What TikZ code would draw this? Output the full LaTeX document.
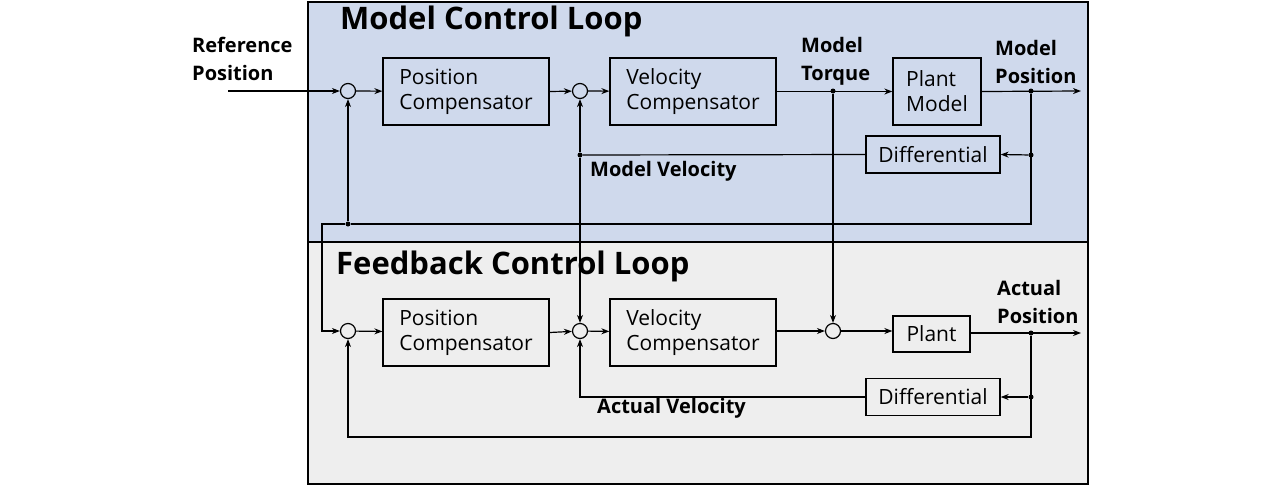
\documentclass[tikz,border=0pt]{standalone}
\usepackage{fontspec}
\setmainfont{Open Sans}
\usetikzlibrary{arrows.meta}
\definecolor{modelbg}{RGB}{207,217,236}
\definecolor{fbbg}{RGB}{238,238,238}
\begin{document}
\begin{tikzpicture}[x=1pt,y=-1pt,
  blk/.style={draw,line width=1.3pt,inner sep=0pt,font=\fontsize{21}{25}\selectfont,align=left},
  sum/.style={draw,circle,line width=1.2pt,minimum size=15pt,inner sep=0pt},
  dot/.style={circle,fill,inner sep=0pt,minimum size=5pt},
  lbl/.style={font=\bfseries\fontsize{20}{28}\selectfont,align=left,inner sep=0pt},
  ttl/.style={font=\bfseries\fontsize{31}{36}\selectfont,inner sep=0pt,anchor=west},
  ar/.style={-{Stealth[length=8pt,width=6pt]},line width=1.2pt},
  ln/.style={line width=1.2pt}]
\useasboundingbox (0,0) rectangle (1284,488);
\draw[line width=1.3pt,fill=modelbg] (308,2) rectangle (1088,242);
\draw[line width=1.3pt,fill=fbbg] (308,242) rectangle (1088,484);
\node[ttl] (t1) at (340,21) {Model Control Loop};
\node[ttl] (t2) at (336,266) {Feedback Control Loop};
\node[lbl,anchor=west] (ref) at (192,59) {Reference\\Position};
\coordinate (refin) at (228,91);
% top row
\node[sum] (s1) at (348,91) {};
\node[blk,minimum width=166pt,minimum height=67pt] (pc1) at (466,91.5) {Position\\Compensator};
\node[sum] (s2) at (580,91) {};
\node[blk,minimum width=166pt,minimum height=67pt] (vc1) at (693,91.5) {Velocity\\Compensator};
\node[blk,minimum width=88pt,minimum height=67pt] (pm) at (937,91.5) {Plant\\Model};
\node[blk,minimum width=134pt,minimum height=37pt] (d1) at (933,154.5) {Differential};
\node[dot] (jt) at (833,91) {};
\node[dot] (jp) at (1031,91) {};
\node[dot] (jd1) at (1031,155) {};
\node[dot] (jv1) at (580,155) {};
\node[dot] (jr) at (348,224) {};
\coordinate (o1) at (1081,91);
\coordinate (c1) at (1031,224);
\coordinate (c2) at (322,224);
\coordinate (c3) at (322,331);
\node[lbl,anchor=west] (mt) at (801,61) {Model\\Torque};
\node[lbl,anchor=west] (mp) at (995,62) {Model\\Position};
\node[lbl,anchor=west] (mv) at (590,171) {Model Velocity};
% bottom row
\node[sum] (s3) at (348,331) {};
\node[blk,minimum width=166pt,minimum height=67pt] (pc2) at (466,332.5) {Position\\Compensator};
\node[sum] (s4) at (580,331) {};
\node[blk,minimum width=166pt,minimum height=67pt] (vc2) at (693,332.5) {Velocity\\Compensator};
\node[sum] (s5) at (833,331) {};
\node[blk,minimum width=77pt,minimum height=36pt] (pl) at (931.5,334) {Plant};
\node[blk,minimum width=134pt,minimum height=37pt] (d2) at (933,397) {Differential};
\node[dot] (jp2) at (1031,333) {};
\node[dot] (jd2) at (1031,397) {};
\coordinate (o2) at (1081,333);
\coordinate (c4) at (1031,437);
\coordinate (c5) at (348,437);
\coordinate (c6) at (580,397);
\node[lbl,anchor=west] (ap) at (997,302) {Actual\\Position};
\node[lbl,anchor=west] (av) at (597,408) {Actual Velocity};
% connectors top
\draw[ar] (refin) -- (s1);
\draw[ar] (s1) -- (pc1);
\draw[ar] (pc1.east) -- (s2);
\draw[ar] (s2) -- (vc1);
\draw[ar] (vc1.east) -- (pm.west);
\draw[ar] (pm.east) -- (o1);
\draw[ar] (jp) -- (jd1) -- (d1.east);
\draw[ln] (d1.west) -- (jv1);
\draw[ar] (jv1) -- (s2);
\draw[ln] (jp) -- (c1) -- (jr);
\draw[ar] (jr) -- (s1);
\draw[ar] (jr) -- (c2) -- (c3) -- (s3);
\draw[ar] (jv1) -- (s4);
\draw[ar] (jt) -- (s5);
% connectors bottom
\draw[ar] (s3) -- (pc2);
\draw[ar] (pc2.east) -- (s4);
\draw[ar] (s4) -- (vc2);
\draw[ar] (vc2.east |- s5) -- (s5);
\draw[ar] (s5) -- (pl.west |- s5);
\draw[ar] (pl.east |- o2) -- (o2);
\draw[ar] (jp2) -- (jd2) -- (d2.east);
\draw[ar] (d2.west) -- (c6) -- (s4);
\draw[ar] (jp2) -- (c4) -- (c5) -- (s3);
\end{tikzpicture}
\end{document}
